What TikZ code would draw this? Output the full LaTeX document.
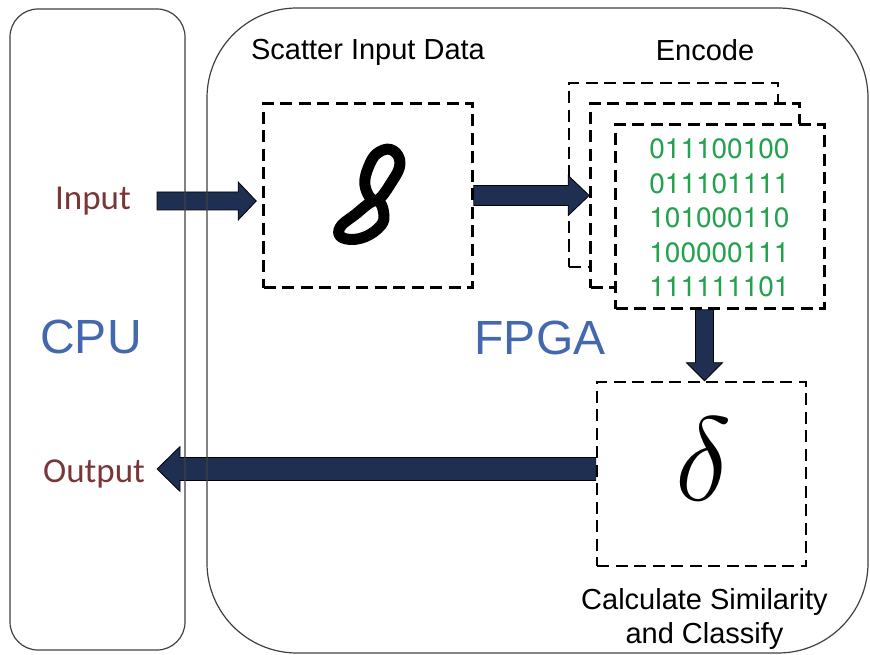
\documentclass[tikz,border=0pt]{standalone}
\usepackage{fontspec}
\setmainfont{Liberation Sans}
\newfontfamily\calfont{Carlito}
\newfontfamily\bitfont{TeX Gyre Heros}
\usetikzlibrary{calc,positioning}
\definecolor{dnavy}{HTML}{1F2F52}
\definecolor{dbrown}{HTML}{7A3636}
\definecolor{dblue}{HTML}{4468AE}
\definecolor{dgreen}{HTML}{22A24C}

\begin{document}
\begin{tikzpicture}[x=1pt,y=-1pt,
  roundbox/.style={draw=black!75, line width=1.2pt, rounded corners=#1, inner sep=0pt},
  dashbox/.style={draw, fill=white, line width=2.6pt, dash pattern=on 12pt off 6.5pt,
                  minimum width=209pt, minimum height=184pt, inner sep=0pt},
  lbl/.style={font=\fontsize{29}{34}\selectfont, inner sep=0pt, align=center},
  iolbl/.style={font=\calfont\fontsize{35}{40}\selectfont, text=dbrown, inner sep=0pt},
  unit/.style={font=\fontsize{48}{56}\selectfont, text=dblue, inner sep=0pt},
  bitrow/.style={font=\bitfont\fontsize{28}{34}\selectfont, text=dgreen, inner sep=0pt, anchor=base west},
  arrowfill/.style={fill=dnavy, draw=black, line width=0.8pt}]

  \useasboundingbox (0,0) rectangle (870,655);

  % ----- macro: \blockarr{de}{para}{meia haste}{meia ponta}{comprimento ponta} -----
  \newcommand{\blockarr}[5]{%
    \coordinate (ba) at ($(#2)!#5!(#1)$);
    \filldraw[arrowfill] ($(#1)!#3!90:(#2)$) -- ($(ba)!#3!90:(#2)$)
      -- ($(ba)!#4!90:(#2)$) -- (#2) -- ($(ba)!#4!-90:(#2)$)
      -- ($(ba)!#3!-90:(#2)$) -- ($(#1)!#3!-90:(#2)$) -- cycle;
  }

  % ----- caixas tracejadas -----
  \node[dashbox] (scatter) at (368,195.5) {};
  \node[dashbox] (encback) at (673.5,175) {};
  \node[dashbox] (encmid) at ($(encback)+(21.5,20.5)$) {};
  \node[dashbox] (encfront) at ($(encmid)+(25,21)$) {};
  \node[dashbox] (delta) at (701.5,474) {};

  % ----- conteudo -----
  \begin{scope}[shift={(scatter.center)}, line width=11pt, line cap=round, line join=round]
    \draw plot[smooth cycle, tension=0.7] coordinates
      {(25,-45) (32,-32) (24,-14) (8,5) (-3,-10) (2,-32) (12,-44)};
    \draw plot[smooth cycle, tension=0.7] coordinates
      {(8,5) (16,20) (10,33) (-8,43) (-26,42) (-28,32) (-14,20)};
  \end{scope}
  \foreach \bits [count=\i] in {011100100,011101111,101000110,100000111,111111101}
    \node[bitrow] (bits\i) at ($(encfront.north west)+(35,1+34.5*\i)$) {\bits};
  \node[font=\Huge, scale=4.8, inner sep=0pt] (dsym) at ($(delta.center)+(2,-15)$) {$\delta$};

  % ----- rotulos -----
  \node[lbl] (scatterlbl) at ($(scatter.north)+(0,-50)$) {Scatter Input Data};
  \node[lbl] (enclbl) at (705,50) {Encode};
  \node[lbl] (deltalbl) at ($(delta.south)+(3,52)$) {Calculate Similarity\\and Classify};
  \node[iolbl] (input) at (93,201) {Input};
  \node[iolbl] (output) at (94,474) {Output};
  \node[unit] (cpulbl) at (91,337) {CPU};
  \node[unit] (fpgalbl) at (540,338) {FPGA};

  % ----- setas -----
  \coordinate (inS) at ($(input.east)+(26,0)$);
  \coordinate (inT) at ($(scatter.west |- inS)+(-6,0)$);
  \blockarr{inS}{inT}{9pt}{19pt}{18pt}

  \coordinate (encS) at (scatter.east);
  \coordinate (encT) at (scatter.east -| encmid.west);
  \blockarr{encS}{encT}{10pt}{20pt}{21pt}

  \coordinate (dnS) at ($(delta.north |- encfront.south)+(3,0)$);
  \coordinate (dnT) at ($(delta.north)+(3,0)$);
  \blockarr{dnS}{dnT}{9pt}{18pt}{18pt}

  \coordinate (outS) at ($(delta.west)+(0,-5)$);
  \coordinate (outT) at ($(outS -| output.east)+(12,0)$);
  \blockarr{outS}{outT}{11.5pt}{22.5pt}{23pt}

  % ----- contornos CPU / FPGA -----
  \node[roundbox=28pt, minimum width=175pt, minimum height=641pt] (cpu) at (97.5,329.5) {};
  \node[roundbox=90pt, minimum width=661pt, minimum height=645pt] (fpga) at (537.5,330.5) {};

\end{tikzpicture}
\end{document}
